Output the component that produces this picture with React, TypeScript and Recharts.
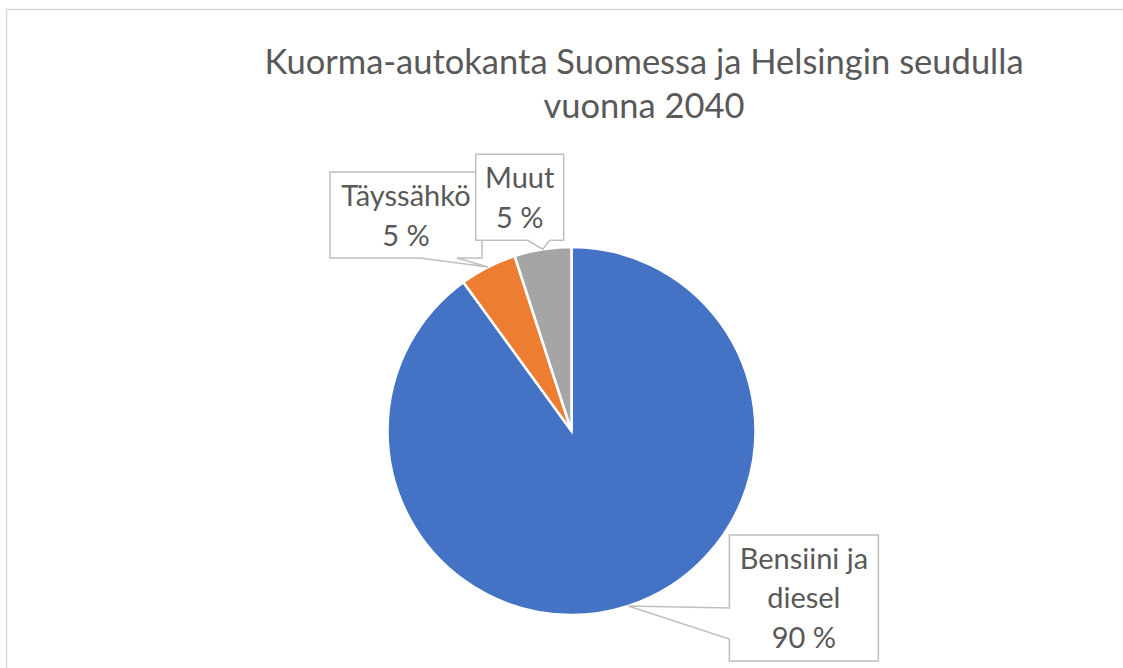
import React from "react";
import { PieChart, Pie, Cell } from "recharts";

// fuel type shares of the truck fleet, 2040
const categories = ["Bensiini ja diesel", "Täyssähkö", "Muut"];
const labelLines = [["Bensiini ja", "diesel"], ["Täyssähkö"], ["Muut"]];
const shares = [90, 5, 5];
const titleLines = ["Kuorma-autokanta Suomessa ja Helsingin seudulla", "vuonna 2040"];

const COLORS = ["#4472C4", "#ED7D31", "#A5A5A5"];
const TEXT = "#595959";
const FONT = "Lato, 'Open Sans', sans-serif";

const data = categories.map((name, i) => ({ name, value: shares[i], lines: labelLines[i] }));

// callout boxes, placed relative to the slice tip (manual positions as in the original)
type Callout = { dx: number; dy: number; w: number; h: number; side: "left" | "bottom"; b0: number; b1: number };
const callouts: Callout[] = [
  { dx: 101, dy: -71, w: 149, h: 126, side: "left", b0: 73, b1: 104 },
  { dx: -158, dy: -95, w: 152, h: 86, side: "bottom", b0: 90, b1: 127 },
  { dx: -67, dy: -95, w: 88, h: 86, side: "bottom", b0: 52, b1: 74 },
];

const RAD = Math.PI / 180;

function renderLabel(props: any) {
  const { cx, cy, midAngle, outerRadius, index, payload } = props;
  const tx = cx + outerRadius * Math.cos(-midAngle * RAD);
  const ty = cy + outerRadius * Math.sin(-midAngle * RAD);
  const c = callouts[index];
  const x = tx + c.dx;
  const y = ty + c.dy;
  let d: string;
  if (c.side === "left") {
    d = `M${x},${y} H${x + c.w} V${y + c.h} H${x} V${y + c.b1} L${tx},${ty} L${x},${y + c.b0} Z`;
  } else {
    d = `M${x},${y} H${x + c.w} V${y + c.h} H${x + c.b1} L${tx},${ty} L${x + c.b0},${y + c.h} H${x} Z`;
  }
  const lines: string[] = [...(payload.lines ?? []), `${payload.value} %`];
  return (
    <g key={`lbl-${index}`}>
      <path d={d} fill="#fff" stroke="#BFBFBF" strokeWidth={1.5} />
      {lines.map((t, i) => (
        <text
          key={i}
          x={x + c.w / 2}
          y={y + 34 + i * 39.5}
          textAnchor="middle"
          fill={TEXT}
          fontSize={29}
          fontFamily={FONT}
        >
          {t}
        </text>
      ))}
    </g>
  );
}

export default function App() {
  return (
    <div style={{ position: "absolute", left: 0, top: 0, width: 1123, height: 668, background: "#fff", overflow: "hidden" }}>
      <svg width={1123} height={668} style={{ position: "absolute", left: 0, top: 0 }}>
        <path d="M6.5,668 V9.5 H1123" fill="none" stroke="#D9D9D9" strokeWidth={1.5} />
        {titleLines.map((t, i) => (
          <text key={i} x={644} y={74 + i * 43.5} textAnchor="middle" fill={TEXT} fontSize={34.5} fontFamily={FONT}>
            {t}
          </text>
        ))}
      </svg>
      <div style={{ position: "absolute", left: 0, top: 0 }}>
        <PieChart width={1123} height={668} margin={{ top: 0, right: 0, bottom: 0, left: 0 }}>
          <Pie
            data={data}
            dataKey="value"
            nameKey="name"
            cx={571.5}
            cy={431}
            outerRadius={184}
            startAngle={90}
            endAngle={-270}
            stroke="#fff"
            strokeWidth={2.5}
            label={renderLabel}
            labelLine={false}
            isAnimationActive={false}
          >
            {data.map((_, i) => (
              <Cell key={i} fill={COLORS[i]} />
            ))}
          </Pie>
        </PieChart>
      </div>
    </div>
  );
}
